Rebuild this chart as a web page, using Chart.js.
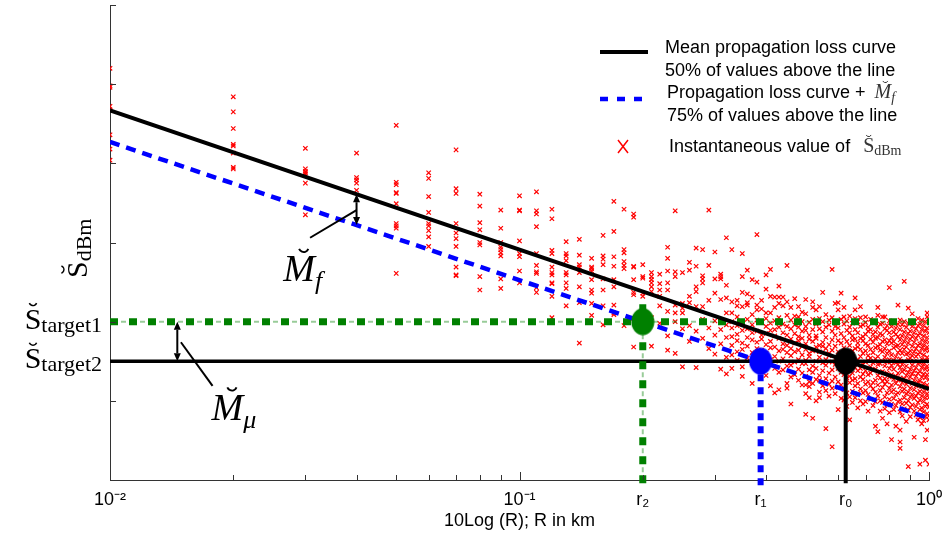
<!DOCTYPE html>
<html>
<head>
<meta charset="utf-8">
<script src="https://cdn.jsdelivr.net/npm/chart.js@4.4.1/dist/chart.umd.min.js"></script>
<style>
	html, body { margin: 0; padding: 0; background: #fff; }
</style>
</head>
<body>
<canvas id="loss-chart" width="943" height="538"></canvas>
<script>
//
// Propagation loss chart
//

//
// Data
//

// Axis ranges (y in dB, one tick every 10 dB, no numbers shown)
var xMin = 0.01, xMax = 1;
var yMin = 0, yMax = 60, yStep = 10;

// Decade tick labels
var decadeValues = [0.01, 0.1, 1];
var decadeLabels = ['10\u207B\u00B2', '10\u207B\u00B9', '10\u2070'];

// Crossing distances r2, r1, r0 and their levels
var crossLabels = ['r\u2082', 'r\u2081', 'r\u2080'];
var crossR = [0.2, 0.388, 0.626];
var crossS = [20, 15, 15];
var crossColors = ['#008000', '#0000ff', '#000000'];
var dropTopS = [22.2, 15, 15];
var dropBottomS = [-0.4, -0.8, -0.4];

// Straight curves (log distance)
var lineR = [0.01, 1];
var meanS = [46.7, 11.5];
var marginS = [42.7, 7.8];
var target1S = [20, 20];
var target2S = [15, 15];

// Margin arrows (M_f, M_mu), leader lines and their labels
var arrowR = [0.04, 0.0146];
var arrowTopS = [36.1, 20];
var arrowBottomS = [32.2, 15];
var leaderFromR = [0.0308, 0.0178];
var leaderFromS = [30.6, 11.9];
var leaderToR = [0.04, 0.0149];
var leaderToS = [34.1, 17.4];
var labelR = [0.0265, 0.0177];
var labelS = [25.1, 7.6];
var labelSub = ['f', '\u03BC'];

// Instantaneous samples: distance columns (km) and values read per column
var sampleR = [
	0.01, 0.02, 0.03, 0.04, 0.05, 0.06, 0.07, 0.08, 0.09, 0.10,
	0.11, 0.12, 0.13, 0.14, 0.15, 0.16, 0.17, 0.18, 0.19, 0.20,
	0.21, 0.22, 0.23, 0.24, 0.25, 0.26, 0.27, 0.28, 0.29, 0.30,
	0.31, 0.32, 0.33, 0.34, 0.35, 0.36, 0.37, 0.38, 0.39, 0.40,
	0.41, 0.42, 0.43, 0.44, 0.45, 0.46, 0.47, 0.48, 0.49, 0.50,
	0.51, 0.52, 0.53, 0.54, 0.55, 0.56, 0.57, 0.58, 0.59, 0.60,
	0.61, 0.62, 0.63, 0.64, 0.65, 0.66, 0.67, 0.68, 0.69, 0.70,
	0.71, 0.72, 0.73, 0.74, 0.75, 0.76, 0.77, 0.78, 0.79, 0.80,
	0.81, 0.82, 0.83, 0.84, 0.85, 0.86, 0.87, 0.88, 0.89, 0.90,
	0.91, 0.92, 0.93, 0.94, 0.95, 0.96, 0.97, 0.98, 0.99, 1.00
];
var sampleS = [
	[52.0, 49.8, 49.6, 47.2, 46.7, 43.6, 41.8, 40.4],
	[48.4, 46.5, 44.4, 42.4, 42.2, 41.3, 39.5, 39.3],
	[41.9, 39.3, 39.0, 38.8, 38.6, 37.5, 33.5],
	[41.3, 38.2, 37.9, 37.5, 36.6],
	[44.8, 37.6, 37.3, 36.3, 36.2, 34.9, 32.4, 32.1, 31.8, 26.1],
	[38.8, 38.1, 35.8, 33.8, 32.4, 32.1, 31.5, 30.7, 29.5],
	[41.7, 36.8, 36.2, 32.4, 31.2, 30.5, 29.5, 26.9, 25.9, 25.8],
	[36.1, 34.6, 32.5, 31.6, 30.0, 29.7, 25.7, 24.0],
	[34.1, 31.8, 30.0, 29.4, 29.1, 28.7, 28.3, 25.4, 24.2],
	[35.9, 34.1, 34.0, 30.2, 28.6, 28.2, 26.4, 24.9],
	[36.4, 34.0, 33.6, 32.0, 28.6, 27.1, 26.3, 26.1, 24.3, 23.7],
	[34.2, 33.0, 29.0, 28.6, 26.9, 26.2, 25.9, 24.9, 24.8, 23.2, 20.5],
	[30.1, 28.6, 28.3, 27.7, 26.2, 25.9, 24.9, 24.2, 22.0],
	[30.4, 28.4, 27.2, 26.9, 26.2, 24.4, 22.4, 17.3],
	[28.0, 26.9, 26.7, 26.4, 25.3, 24.0, 23.6, 22.3, 20.8],
	[30.9, 28.3, 27.9, 27.2, 25.4, 24.0, 22.0, 19.6],
	[35.2, 31.4, 28.2, 27.0, 25.3, 24.4, 22.1, 21.1, 20.9],
	[34.2, 29.1, 28.7, 27.6, 27.1, 26.7, 19.5],
	[33.6, 33.2, 27.0, 26.9, 25.3, 23.7, 23.4, 20.4, 16.8],
	[27.2, 25.7, 25.5, 23.6, 23.2, 19.5, 17.0],
	[26.2, 25.7, 25.3, 24.9, 24.4, 23.8, 20.5, 16.9],
	[26.0, 24.8, 24.0, 23.2, 22.0, 19.8],
	[29.4, 28.0, 26.4, 24.9, 24.0, 21.3, 18.2, 16.4],
	[34.0, 26.3, 25.7, 22.1, 21.1, 20.0, 16.0],
	[26.2, 22.3, 21.7, 21.1, 19.1, 14.3],
	[27.5, 26.5, 23.2, 22.4, 19.5, 17.5],
	[29.3, 27.0, 24.4, 23.8, 21.9, 18.8, 14.2],
	[29.1, 25.8, 25.4, 24.9, 21.9, 20.3, 17.9],
	[34.1, 27.1, 22.7, 19.2, 16.6],
	[28.8, 25.4, 23.6, 20.1, 18.3, 15.9],
	[26.0, 25.7, 25.4, 22.8, 19.0, 17.2, 14.0],
	[30.6, 24.6, 23.0, 21.1, 19.6, 18.0, 15.5, 13.4],
	[29.1, 22.5, 21.1, 20.0, 19.2, 18.1, 17.0, 15.8, 14.1],
	[22.7, 22.0, 20.6, 19.5, 18.4, 17.6, 16.2, 15.1],
	[28.6, 25.7, 23.7, 21.9, 19.8, 18.9, 17.3, 16.5, 14.3, 13.1],
	[26.5, 23.5, 22.4, 22.1, 20.3, 19.1, 18.0, 16.9, 15.4],
	[25.3, 23.1, 20.9, 19.6, 18.6, 17.7, 16.1, 14.8, 12.2],
	[31.0, 25.0, 22.1, 21.5, 20.2, 18.8, 17.4, 16.6, 15.0],
	[22.7, 21.6, 19.9, 18.3, 17.8, 16.4, 15.5, 13.7],
	[25.9, 24.1, 21.1, 20.4, 19.4, 18.5, 17.1, 16.0, 14.6, 13.2],
	[26.6, 23.2, 21.1, 19.8, 18.9, 17.5, 16.7, 15.2, 11.9],
	[23.1, 21.8, 20.1, 19.0, 18.2, 16.8, 15.6, 14.1, 11.0],
	[24.5, 23.1, 22.3, 20.5, 19.3, 17.9, 16.3, 15.0, 13.6, 11.4],
	[23.1, 22.0, 19.7, 18.6, 17.2, 16.5, 15.3, 13.9],
	[27.1, 22.5, 20.8, 19.4, 18.3, 17.0, 16.1, 14.4, 12.2, 11.6],
	[21.8, 20.2, 19.1, 17.8, 16.6, 15.7, 14.5, 13.0, 9.6],
	[22.9, 20.7, 19.6, 18.5, 17.3, 16.2, 14.9, 13.3],
	[21.9, 20.6, 19.3, 18.1, 17.6, 16.4, 15.2, 14.0, 12.6],
	[21.2, 20.0, 18.8, 17.9, 16.9, 15.8, 14.7, 13.5, 12.0],
	[22.8, 21.0, 19.4, 18.9, 17.2, 16.5, 15.1, 14.7, 13.1, 12.0, 10.9, 8.3],
	[19.9, 18.3, 17.8, 16.0, 15.6, 13.9, 12.4, 11.8, 10.4],
	[22.5, 21.8, 20.3, 19.0, 17.5, 16.3, 14.4, 13.6, 12.2, 7.8],
	[21.5, 19.7, 18.2, 17.9, 16.8, 15.0, 14.1, 12.7, 10.0],
	[21.9, 20.4, 19.1, 17.0, 16.2, 15.5, 13.2, 12.6, 11.1, 10.4],
	[23.7, 20.0, 18.7, 17.4, 16.9, 14.8, 13.8, 11.9],
	[20.9, 19.3, 18.0, 16.6, 15.2, 14.5, 12.8, 11.3, 6.5],
	[20.2, 19.6, 17.1, 16.0, 15.7, 13.5, 12.1, 10.6],
	[26.6, 20.5, 18.8, 17.7, 16.4, 14.9, 13.9, 12.5, 11.6, 4.2],
	[22.3, 19.4, 18.3, 16.9, 15.3, 14.6, 13.0, 10.9],
	[22.4, 21.5, 20.0, 19.2, 17.6, 16.2, 15.5, 14.1, 12.4, 11.7, 8.9],
	[23.6, 20.3, 18.5, 17.3, 15.9, 14.8, 13.6, 12.0, 10.3],
	[21.8, 20.6, 19.7, 18.0, 16.7, 15.1, 14.4, 13.3, 11.4, 10.1],
	[20.1, 18.9, 17.5, 16.1, 15.8, 14.0, 12.9, 11.0, 9.3],
	[20.7, 19.3, 18.6, 17.0, 15.4, 14.7, 13.1, 12.3, 10.5, 7.6],
	[19.8, 18.2, 17.7, 16.3, 14.9, 13.5, 12.6, 11.2, 9.8],
	[23.0, 21.5, 20.4, 19.0, 17.8, 16.6, 15.0, 14.2, 12.8, 11.9, 10.4],
	[20.0, 18.6, 17.3, 16.8, 15.2, 13.8, 12.2, 10.9, 9.1],
	[21.9, 20.5, 19.4, 17.9, 16.5, 15.6, 14.1, 13.0, 11.5, 10.0],
	[19.6, 18.1, 17.6, 16.0, 14.6, 13.4, 12.7, 11.0, 9.6],
	[20.6, 19.9, 18.4, 17.2, 16.3, 14.9, 13.8, 12.1, 11.3, 9.9],
	[19.3, 18.8, 17.0, 15.7, 15.1, 13.3, 12.4, 10.8, 8.7],
	[20.3, 19.0, 17.8, 16.5, 15.4, 14.3, 13.5, 11.9, 10.2],
	[19.9, 18.4, 17.4, 16.1, 14.8, 13.9, 12.3, 11.5, 9.4],
	[20.0, 18.7, 17.9, 16.7, 15.3, 14.0, 12.6, 11.1, 9.9, 6.8],
	[21.8, 20.8, 19.3, 18.0, 16.9, 15.6, 14.6, 13.2, 12.0, 10.6, 6.1],
	[19.7, 18.5, 17.1, 16.4, 14.7, 13.6, 12.9, 11.3, 10.0, 8.7],
	[20.6, 19.8, 18.3, 17.5, 16.2, 15.0, 13.7, 12.5, 11.7, 9.8, 7.8],
	[20.6, 19.1, 17.7, 16.6, 15.5, 14.4, 12.8, 12.1, 10.5, 9.0],
	[19.5, 18.9, 17.2, 16.0, 14.9, 13.5, 12.4, 11.0, 9.5, 7.1],
	[24.3, 20.1, 18.6, 17.6, 16.3, 15.2, 14.1, 13.0, 11.6, 10.2, 8.5],
	[19.4, 18.0, 17.3, 15.8, 14.5, 13.3, 12.0, 11.1, 9.6, 5.1],
	[20.0, 18.7, 17.5, 16.7, 15.1, 14.0, 12.7, 11.4, 10.3, 8.9],
	[19.2, 18.4, 16.9, 15.6, 14.8, 13.1, 12.2, 10.8, 9.4, 6.8],
	[22.1, 19.7, 18.1, 17.0, 16.1, 14.6, 13.5, 12.6, 11.0, 9.9],
	[20.2, 19.0, 17.7, 16.4, 15.3, 14.2, 12.9, 11.8, 10.1, 8.6, 6.3, 4.8, 4.0],
	[19.6, 18.2, 17.1, 16.0, 14.6, 13.7, 12.3, 11.2, 9.6, 8.1],
	[25.1, 20.0, 18.7, 17.5, 16.5, 15.0, 13.9, 12.8, 11.5, 10.4, 9.0],
	[19.3, 18.0, 16.8, 15.9, 14.4, 13.2, 12.1, 10.9, 9.7, 7.4],
	[21.7, 19.8, 18.5, 17.3, 16.0, 15.2, 13.6, 12.5, 11.1, 10.0, 8.8, 1.7],
	[20.1, 18.8, 17.8, 16.3, 15.4, 14.0, 13.0, 11.6, 10.5, 9.2, 8.0],
	[21.0, 19.4, 18.1, 16.9, 15.7, 14.5, 13.4, 12.2, 10.8, 9.5],
	[19.9, 18.6, 17.4, 16.2, 15.0, 13.8, 12.6, 11.4, 10.3, 8.7, 5.4],
	[19.1, 17.9, 16.6, 15.6, 14.2, 13.1, 11.9, 10.6, 9.3, 8.2],
	[20.4, 19.5, 18.3, 17.0, 15.9, 14.7, 13.5, 12.4, 11.0, 9.8, 7.6],
	[19.7, 18.5, 17.2, 16.1, 14.8, 13.7, 12.5, 11.2, 10.1, 8.9, 7.9, 2.0],
	[20.2, 19.0, 17.7, 16.6, 15.3, 14.2, 13.0, 11.8, 10.6, 9.1, 7.1],
	[19.5, 18.2, 17.0, 15.8, 14.6, 13.4, 12.2, 11.1, 9.9, 8.6, 7.5],
	[20.0, 18.8, 17.5, 16.4, 15.1, 14.0, 12.9, 11.6, 10.4, 9.3, 8.0, 5.1, 2.5],
	[21.1, 20.6, 19.2, 18.0, 16.8, 15.5, 14.4, 13.3, 12.0, 10.9, 9.6, 8.4, 6.3],
	[19.9, 18.6, 17.4, 16.3, 15.0, 13.9, 12.7, 11.5, 10.4, 9.2, 8.1, 7.6, 2.0]
];


//
// Helpers
//

var SERIF = '"Liberation Serif", "DejaVu Serif", serif';
var SANS = '"Liberation Sans", Arial, sans-serif';

function toPoints(xs, ys) {
	return xs.map(function(x, i) { return { x: x, y: ys[i] }; });
}

function samplePoints() {
	var pts = [];
	sampleR.forEach(function(r, i) {
		sampleS[i].forEach(function(s) { pts.push({ x: r, y: s }); });
	});
	return pts;
}

function ellipseMarker(color) {
	var c = document.createElement('canvas');
	c.width = 24; c.height = 28;
	var g = c.getContext('2d');
	g.fillStyle = color;
	g.beginPath();
	g.ellipse(12, 14, 11.5, 13.5, 0, 0, 2 * Math.PI);
	g.fill();
	return c;
}

// S/M with a breve on top and a subscript
function drawBreveText(ctx, x, y, o) {
	var fMain = (o.italic ? 'italic ' : '') + o.size + 'px ' + SERIF;
	var fSub = (o.subItalic ? 'italic ' : '') + o.subSize + 'px ' + SERIF;
	ctx.font = fMain;
	var wMain = ctx.measureText(o.main).width;
	ctx.font = fSub;
	var wSub = ctx.measureText(o.sub).width;
	if (o.align === 'right') x -= wMain + wSub;
	ctx.textBaseline = 'alphabetic';
	ctx.textAlign = 'left';
	ctx.font = fMain;
	ctx.fillText(o.main, x, y);
	ctx.font = fSub;
	ctx.fillText(o.sub, x + wMain, y + o.drop);

	// breve: small cup above the letter
	var cx = x + wMain / 2 + (o.italic ? o.size * 0.12 : 0);
	var cy = y - o.size * 0.9;
	ctx.save();
	ctx.strokeStyle = ctx.fillStyle;
	ctx.lineWidth = Math.max(1, o.size * 0.05);
	ctx.beginPath();
	ctx.arc(cx, cy, o.size * 0.13, 0.12 * Math.PI, 0.88 * Math.PI);
	ctx.stroke();
	ctx.restore();
}

function doubleArrow(ctx, x, y1, y2) {
	var h = 8, w = 3.5;
	ctx.beginPath();
	ctx.moveTo(x, y1 + h); ctx.lineTo(x, y2 - h);
	ctx.stroke();
	ctx.beginPath();
	ctx.moveTo(x, y1); ctx.lineTo(x - w, y1 + h); ctx.lineTo(x + w, y1 + h); ctx.closePath();
	ctx.moveTo(x, y2); ctx.lineTo(x - w, y2 - h); ctx.lineTo(x + w, y2 - h); ctx.closePath();
	ctx.fill();
}


//
// Plugins
//

// Inward tick marks, margin arrows and math labels
var annotations = {
	id: 'annotations',
	afterDatasetsDraw: function(chart) {
		var ctx = chart.ctx, xs = chart.scales.x, ys = chart.scales.y, area = chart.chartArea;
		ctx.save();

		// tick marks pointing into the plot
		ctx.strokeStyle = '#333';
		ctx.lineWidth = 1;
		ctx.beginPath();
		ys.ticks.forEach(function(t) {
			var py = Math.round(ys.getPixelForValue(t.value)) + 0.5;
			ctx.moveTo(area.left, py); ctx.lineTo(area.left + 6, py);
		});
		xs.ticks.forEach(function(t) {
			if (t.crossIndex !== undefined || t.spacer) return;
			var e = Math.floor(Math.log10(t.value) + 1e-9);
			var s = t.value / Math.pow(10, e);
			if (Math.abs(s - Math.round(s)) > 1e-6) return;
			var px = Math.round(xs.getPixelForValue(t.value)) + 0.5;
			ctx.moveTo(px, area.bottom); ctx.lineTo(px, area.bottom - (Math.round(s) === 1 ? 8 : 5));
		});
		ctx.stroke();

		// margin arrows and leaders
		ctx.strokeStyle = '#000';
		ctx.fillStyle = '#000';
		arrowR.forEach(function(r, i) {
			var px = xs.getPixelForValue(r);
			ctx.lineWidth = 2;
			doubleArrow(ctx, px, ys.getPixelForValue(arrowTopS[i]), ys.getPixelForValue(arrowBottomS[i]));
			ctx.beginPath();
			ctx.moveTo(xs.getPixelForValue(leaderFromR[i]), ys.getPixelForValue(leaderFromS[i]));
			ctx.lineTo(xs.getPixelForValue(leaderToR[i]), ys.getPixelForValue(leaderToS[i]));
			ctx.stroke();
			drawBreveText(ctx, xs.getPixelForValue(labelR[i]), ys.getPixelForValue(labelS[i]), {
				main: 'M', sub: labelSub[i], size: 38, subSize: 26, italic: true, subItalic: true, drop: 8
			});
		});

		// target levels on the left of the axis
		[target1S[0], target2S[0]].forEach(function(s, i) {
			drawBreveText(ctx, area.left - 8, ys.getPixelForValue(s) + 7, {
				main: 'S', sub: 'target' + (i + 1), size: 30, subSize: 22, drop: 3, align: 'right'
			});
		});

		// y axis title, rotated
		ctx.translate(area.left - 23, 278);
		ctx.rotate(-Math.PI / 2);
		drawBreveText(ctx, 0, 0, { main: 'S', sub: 'dBm', size: 30, subSize: 22, drop: 4 });

		ctx.restore();
	}
};

// Legend box in the upper right
var legendBox = {
	id: 'legendBox',
	afterDraw: function(chart) {
		var ctx = chart.ctx;
		ctx.save();

		ctx.strokeStyle = '#000';
		ctx.lineWidth = 4;
		ctx.beginPath(); ctx.moveTo(600, 52); ctx.lineTo(648, 52); ctx.stroke();

		ctx.strokeStyle = '#0000ff';
		ctx.lineWidth = 4.5;
		ctx.setLineDash([8, 9]);
		ctx.beginPath(); ctx.moveTo(600, 99); ctx.lineTo(643, 99); ctx.stroke();
		ctx.setLineDash([]);

		ctx.strokeStyle = '#ff0000';
		ctx.lineWidth = 1.5;
		ctx.beginPath();
		ctx.moveTo(618, 140); ctx.lineTo(628, 153);
		ctx.moveTo(628, 140); ctx.lineTo(618, 153);
		ctx.stroke();

		ctx.fillStyle = '#000';
		ctx.font = '18px ' + SANS;
		ctx.textAlign = 'left';
		ctx.textBaseline = 'alphabetic';
		ctx.fillText('Mean propagation loss curve', 665, 53);
		ctx.fillText('50% of values above the line', 665, 75.5);
		var t3 = 'Propagation loss curve + ';
		ctx.fillText(t3, 667, 98);
		var w3 = ctx.measureText(t3).width;
		ctx.fillText('75% of values above the line', 667, 120.5);
		var t5 = 'Instantaneous value of ';
		ctx.fillText(t5, 669, 152);
		var w5 = ctx.measureText(t5).width;

		ctx.fillStyle = '#333';
		drawBreveText(ctx, 667 + w3 + 4, 98, { main: 'M', sub: 'f', size: 20, subSize: 14, italic: true, subItalic: true, drop: 4 });
		drawBreveText(ctx, 669 + w5 + 8, 152, { main: 'S', sub: 'dBm', size: 20, subSize: 14, drop: 3 });

		ctx.restore();
	}
};


//
// Chart
//

var lossChart = new Chart(document.getElementById('loss-chart'), {
	type: 'scatter',
	data: {
		datasets: [
			{
				label: 'Crossings',
				data: toPoints(crossR, crossS),
				pointStyle: crossColors.map(ellipseMarker),
				pointRadius: 12
			},
			{
				label: 'r0',
				data: toPoints([crossR[2], crossR[2]], [dropTopS[2], dropBottomS[2]]),
				showLine: true, pointRadius: 0, clip: false,
				borderColor: '#000', borderWidth: 4
			},
			{
				label: 'r1',
				data: toPoints([crossR[1], crossR[1]], [dropTopS[1], dropBottomS[1]]),
				showLine: true, pointRadius: 0, clip: false,
				borderColor: '#0000ff', borderWidth: 6, borderDash: [7, 6]
			},
			{
				label: 'r2',
				data: toPoints([crossR[0], crossR[0]], [dropTopS[0], dropBottomS[0]]),
				showLine: true, pointRadius: 0, clip: false,
				borderColor: '#008000', borderWidth: 7, borderDash: [8, 11]
			},
			{
				label: 'r2 thin',
				data: toPoints([crossR[0], crossR[0]], [dropTopS[0], dropBottomS[0]]),
				showLine: true, pointRadius: 0, clip: false,
				borderColor: 'rgba(0,128,0,0.4)', borderWidth: 2, borderDash: [5, 14], borderDashOffset: 8
			},
			{
				label: 'Mean propagation loss curve',
				data: toPoints(lineR, meanS),
				showLine: true, pointRadius: 0,
				borderColor: '#000', borderWidth: 4
			},
			{
				label: 'Target 2',
				data: toPoints(lineR, target2S),
				showLine: true, pointRadius: 0,
				borderColor: '#000', borderWidth: 3.5
			},
			{
				label: 'Propagation loss curve + Mf',
				data: toPoints(lineR, marginS),
				showLine: true, pointRadius: 0,
				borderColor: '#0000ff', borderWidth: 4.5, borderDash: [10, 7]
			},
			{
				label: 'Target 1',
				data: toPoints(lineR, target1S),
				showLine: true, pointRadius: 0, clip: false,
				borderColor: '#008000', borderWidth: 7, borderDash: [8, 11]
			},
			{
				label: 'Target 1 thin',
				data: toPoints(lineR, target1S),
				showLine: true, pointRadius: 0,
				borderColor: 'rgba(0,128,0,0.4)', borderWidth: 2, borderDash: [5, 14], borderDashOffset: 8
			},
			{
				label: 'Instantaneous value',
				data: samplePoints(),
				pointStyle: 'crossRot',
				pointRadius: 3.1,
				borderColor: '#ff0000',
				backgroundColor: '#ff0000',
				borderWidth: 1.2
			}
		]
	},
	options: {
		responsive: false,
		animation: false,
		layout: { autoPadding: false, padding: { left: 110, right: 14, top: 5, bottom: 7.8 } },
		plugins: {
			legend: { display: false },
			tooltip: { enabled: false }
		},
		scales: {
			x: {
				type: 'logarithmic',
				min: xMin,
				max: xMax,
				grid: { display: false, drawTicks: false },
				border: { display: true, color: '#333', width: 1 },
				afterBuildTicks: function(scale) {
					var extra = crossR.map(function(r, i) { return { value: r, crossIndex: i }; });
					var ticks = scale.ticks.concat(extra).sort(function(a, b) { return a.value - b.value; });
					// unlabelled last tick so the 10^0 label may hang past the plot edge
					ticks.push({ value: xMax, spacer: true });
					scale.ticks = ticks;
				},
				ticks: {
					autoSkip: false,
					maxRotation: 0,
					minRotation: 0,
					padding: 9,
					color: '#000',
					font: { family: SANS, size: 18 },
					callback: function(value, index, ticks) {
						var t = ticks[index];
						if (t && t.spacer) return '';
						if (t && t.crossIndex !== undefined) return crossLabels[t.crossIndex];
						for (var i = 0; i < decadeValues.length; i++) {
							if (Math.abs(Math.log10(value) - Math.log10(decadeValues[i])) < 1e-6) return decadeLabels[i];
						}
						return '';
					}
				},
				title: {
					display: true,
					text: '10Log (R); R in km',
					color: '#000',
					font: { family: SANS, size: 18 },
					padding: { top: -9, bottom: -2 }
				}
			},
			y: {
				min: yMin,
				max: yMax,
				ticks: { display: false, stepSize: yStep },
				grid: { display: false, drawTicks: false },
				border: { display: true, color: '#333', width: 1 }
			}
		}
	},
	plugins: [annotations, legendBox]
});
</script>
</body>
</html>
